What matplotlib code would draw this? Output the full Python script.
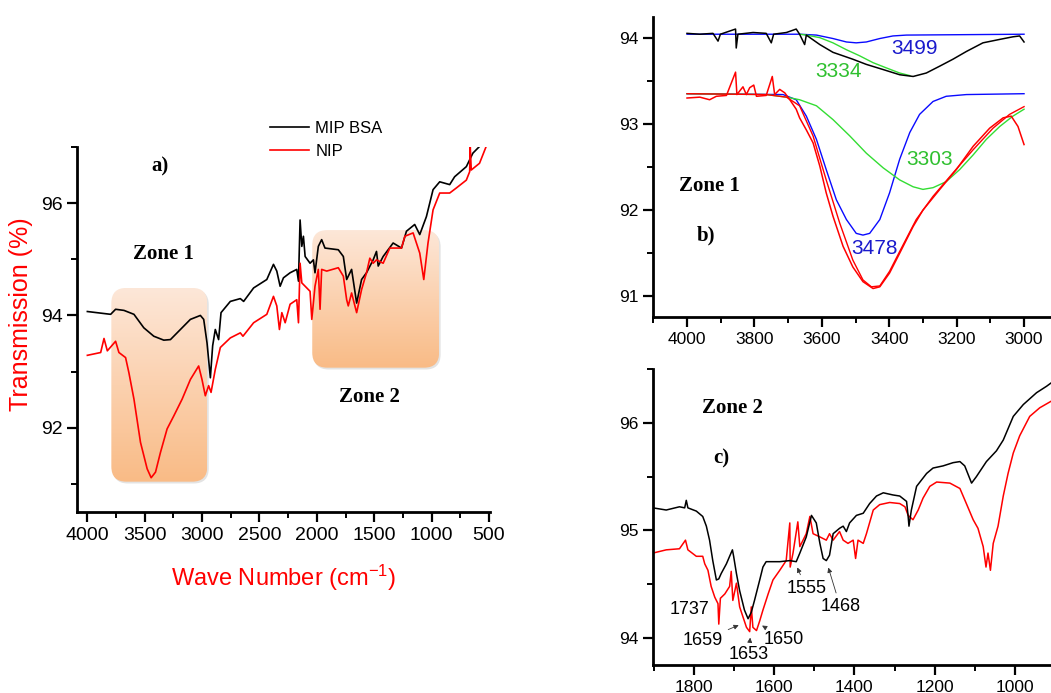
import numpy as np
import matplotlib
matplotlib.use("Agg")
import matplotlib.pyplot as plt
from matplotlib.patches import FancyBboxPatch
from matplotlib.colors import LinearSegmentedColormap
from matplotlib.ticker import MultipleLocator

plt.rcParams['font.family'] = ['Liberation Sans', 'DejaVu Sans']
plt.rcParams['mathtext.fontset'] = 'custom'
plt.rcParams['mathtext.rm'] = 'Liberation Sans'
plt.rcParams['mathtext.default'] = 'regular'

# ---------------- data ----------------
# panel a) full spectra
a_mip_x = [4000, 3797, 3754, 3681, 3594, 3508, 3421, 3334, 3276, 3189, 3102, 3015, 2986, 2957, 2928, 2908,
           2885, 2856, 2835, 2754, 2667, 2638, 2551, 2436, 2378, 2349, 2320, 2291, 2233, 2175, 2160, 2146,
           2131, 2117, 2102, 2059, 2030, 2016, 1987, 1958, 1929, 1813, 1769, 1740, 1697, 1653, 1610, 1567,
           1509, 1480, 1465, 1422, 1335, 1262, 1219, 1147, 1103, 1045, 987, 929, 842, 799, 697, 640, 582]
a_mip_y = [94.07, 94.02, 94.11, 94.09, 94.02, 93.78, 93.63, 93.56, 93.57, 93.75, 93.93, 94.00, 93.93, 93.51,
           92.89, 93.46, 93.75, 93.57, 94.05, 94.25, 94.30, 94.25, 94.49, 94.64, 94.91, 94.79, 94.52, 94.67,
           94.76, 94.82, 94.61, 95.70, 95.23, 95.41, 95.05, 94.93, 94.99, 94.76, 95.23, 95.35, 95.20, 95.17,
           95.05, 94.64, 94.82, 94.22, 94.64, 94.76, 94.99, 95.14, 94.88, 95.05, 95.29, 95.20, 95.50, 95.62,
           95.44, 95.76, 96.24, 96.38, 96.33, 96.47, 96.65, 96.89, 97.01]

a_nip_x = [4000, 3884, 3855, 3826, 3754, 3725, 3667, 3638, 3594, 3537, 3479, 3444, 3406, 3363, 3305, 3247,
           3174, 3102, 3030, 3001, 2972, 2943, 2922, 2885, 2841, 2754, 2667, 2644, 2551, 2436, 2378, 2349,
           2326, 2305, 2276, 2233, 2175, 2160, 2146, 2131, 2102, 2059, 2044, 2016, 1987, 1972, 1958, 1914,
           1813, 1769, 1740, 1726, 1697, 1653, 1610, 1567, 1538, 1509, 1480, 1422, 1364, 1262, 1233, 1161,
           1103, 1068, 1031, 987, 929, 842, 784, 697, 668, 663, 654, 582, 524]
a_nip_y = [93.29, 93.34, 93.59, 93.37, 93.54, 93.34, 93.25, 92.98, 92.51, 91.74, 91.27, 91.11, 91.21, 91.56,
           91.98, 92.21, 92.51, 92.86, 93.10, 92.86, 92.57, 92.75, 92.63, 93.04, 93.43, 93.60, 93.69, 93.63,
           93.87, 94.02, 94.34, 94.17, 93.75, 94.05, 93.87, 94.20, 94.28, 93.87, 94.93, 94.58, 94.52, 94.43,
           93.93, 94.52, 94.82, 94.11, 94.82, 94.79, 94.85, 94.70, 94.28, 94.17, 94.40, 94.05, 94.46, 94.76,
           95.02, 94.93, 94.99, 94.93, 95.20, 95.20, 95.41, 95.47, 95.11, 94.64, 95.29, 95.88, 96.18, 96.18,
           96.27, 96.41, 96.56, 97.01, 96.59, 96.71, 97.01]

# panel b) zone 1 with fitted bands
b_mip_x = [4000, 3962, 3923, 3908, 3901, 3856, 3854, 3849, 3804, 3765, 3750, 3743, 3705, 3676, 3666, 3651,
           3646, 3606, 3567, 3508, 3468, 3418, 3369, 3329, 3290, 3250, 3211, 3171, 3122, 3072, 3033, 3013, 3000]
b_mip_y = [94.05, 94.04, 94.05, 93.96, 94.04, 94.10, 93.88, 94.04, 94.06, 94.05, 93.94, 94.04, 94.06, 94.10,
           94.04, 93.92, 94.03, 93.92, 93.83, 93.75, 93.69, 93.63, 93.57, 93.55, 93.59, 93.67, 93.75, 93.84,
           93.94, 93.98, 94.01, 94.02, 93.95]

b_fit3499_x = [4000, 3666, 3616, 3567, 3527, 3498, 3468, 3428, 3389, 3349, 3000]
b_fit3499_y = [94.04, 94.04, 94.03, 93.99, 93.95, 93.94, 93.95, 93.99, 94.02, 94.03, 94.04]

b_fit3334_x = [3666, 3646, 3606, 3567, 3527, 3488, 3448, 3409, 3369, 3339]
b_fit3334_y = [94.04, 94.03, 94.00, 93.94, 93.86, 93.79, 93.71, 93.65, 93.59, 93.56]

b_nip_x = [4000, 3962, 3933, 3913, 3883, 3856, 3852, 3834, 3824, 3814, 3802, 3794, 3765, 3747, 3740, 3725,
           3710, 3695, 3676, 3666, 3646, 3626, 3606, 3587, 3567, 3537, 3508, 3478, 3448, 3428, 3399, 3369,
           3329, 3300, 3250, 3201, 3151, 3102, 3062, 3038, 3018, 3000]
b_nip_y = [93.30, 93.31, 93.28, 93.32, 93.33, 93.60, 93.34, 93.43, 93.34, 93.42, 93.45, 93.32, 93.33, 93.55,
           93.34, 93.40, 93.36, 93.28, 93.17, 93.07, 92.93, 92.78, 92.51, 92.20, 91.93, 91.58, 91.34, 91.17,
           91.09, 91.11, 91.27, 91.50, 91.81, 92.00, 92.24, 92.47, 92.74, 92.95, 93.07, 93.09, 92.97, 92.76]

b_nipfit_x = [4000, 3765, 3705, 3666, 3626, 3587, 3547, 3508, 3478, 3453, 3428, 3399, 3369, 3320, 3270,
              3211, 3151, 3092, 3043, 3000]
b_nipfit_y = [93.35, 93.34, 93.31, 93.21, 92.86, 92.35, 91.85, 91.42, 91.19, 91.11, 91.12, 91.29, 91.52,
              91.89, 92.16, 92.43, 92.70, 92.95, 93.11, 93.20]

b_fit3478_x = [4000, 3715, 3676, 3646, 3616, 3587, 3557, 3527, 3498, 3478, 3458, 3428, 3399, 3369, 3339,
               3310, 3270, 3231, 3171, 3000]
b_fit3478_y = [93.35, 93.34, 93.28, 93.09, 92.82, 92.47, 92.12, 91.89, 91.73, 91.71, 91.73, 91.89, 92.20,
               92.59, 92.90, 93.11, 93.26, 93.32, 93.34, 93.35]

b_fit3303_x = [4000, 3765, 3705, 3666, 3616, 3567, 3517, 3468, 3418, 3369, 3329, 3300, 3270, 3231, 3191,
               3151, 3112, 3072, 3033, 3000]
b_fit3303_y = [93.35, 93.34, 93.31, 93.28, 93.21, 93.05, 92.86, 92.66, 92.49, 92.35, 92.27, 92.24, 92.26,
               92.33, 92.47, 92.64, 92.82, 92.97, 93.09, 93.17]

# panel c) zone 2
c_mip_x = [1902, 1869, 1836, 1823, 1819, 1815, 1794, 1778, 1769, 1761, 1753, 1744, 1738, 1732, 1719, 1711,
           1704, 1701, 1694, 1686, 1674, 1665, 1657, 1649, 1636, 1628, 1620, 1586, 1561, 1545, 1536, 1520,
           1507, 1495, 1486, 1478, 1470, 1462, 1453, 1437, 1428, 1420, 1412, 1395, 1378, 1362, 1345, 1328,
           1304, 1287, 1270, 1266, 1264, 1258, 1245, 1220, 1204, 1179, 1154, 1137, 1125, 1108, 1096, 1071,
           1046, 1029, 1004, 979, 946, 921, 910]
c_mip_y = [95.21, 95.19, 95.22, 95.21, 95.28, 95.21, 95.18, 95.13, 95.04, 94.91, 94.72, 94.54, 94.55, 94.60,
           94.69, 94.76, 94.82, 94.76, 94.60, 94.44, 94.26, 94.18, 94.24, 94.35, 94.54, 94.66, 94.71, 94.71,
           94.72, 94.71, 94.79, 94.94, 95.14, 95.07, 94.88, 94.74, 94.72, 94.77, 94.97, 95.02, 95.04, 94.99,
           95.07, 95.14, 95.16, 95.25, 95.32, 95.35, 95.33, 95.32, 95.27, 95.13, 95.04, 95.19, 95.41, 95.53,
           95.58, 95.60, 95.63, 95.64, 95.60, 95.44, 95.50, 95.64, 95.74, 95.84, 96.06, 96.17, 96.28, 96.34,
           96.37]

c_nip_x = [1902, 1869, 1836, 1821, 1815, 1794, 1778, 1773, 1765, 1757, 1748, 1740, 1738, 1734, 1723, 1711,
           1707, 1703, 1694, 1686, 1678, 1669, 1661, 1657, 1653, 1644, 1636, 1628, 1615, 1603, 1586, 1570,
           1561, 1560, 1553, 1541, 1536, 1520, 1511, 1503, 1486, 1470, 1462, 1453, 1437, 1428, 1416, 1403,
           1397, 1391, 1378, 1370, 1353, 1337, 1312, 1287, 1274, 1266, 1254, 1241, 1229, 1212, 1195, 1162,
           1137, 1121, 1104, 1092, 1079, 1072, 1067, 1061, 1054, 1042, 1029, 1017, 1004, 988, 963, 938, 910]
c_nip_y = [94.79, 94.82, 94.83, 94.91, 94.82, 94.76, 94.76, 94.69, 94.63, 94.48, 94.38, 94.32, 94.13, 94.37,
           94.41, 94.48, 94.62, 94.35, 94.51, 94.29, 94.20, 94.10, 94.06, 94.29, 94.10, 94.07, 94.16, 94.26,
           94.41, 94.54, 94.63, 94.72, 95.07, 94.66, 94.79, 95.08, 94.85, 94.97, 95.13, 94.97, 94.94, 94.91,
           94.97, 94.91, 94.99, 94.91, 94.88, 94.91, 94.74, 94.91, 94.88, 94.97, 95.19, 95.24, 95.26, 95.25,
           95.22, 95.14, 95.10, 95.19, 95.30, 95.41, 95.45, 95.44, 95.39, 95.25, 95.10, 95.02, 94.85, 94.66,
           94.79, 94.63, 94.88, 95.04, 95.32, 95.53, 95.72, 95.88, 96.06, 96.14, 96.20]

c_peak_labels = ['1737', '1659', '1653', '1650', '1555', '1468']

serif = ['Liberation Serif', 'DejaVu Serif']
blue = '#0a0aff'
green = '#33dd33'
fig = plt.figure(figsize=(10.51, 6.93), dpi=100)


def style_axes(ax, fs):
    for s in ['top', 'right']:
        ax.spines[s].set_visible(False)
    for s in ['left', 'bottom']:
        ax.spines[s].set_linewidth(2)
    ax.tick_params(which='major', length=7, width=1.6, labelsize=fs, direction='out')
    ax.tick_params(which='minor', length=4, width=1.4, direction='out')


def zone_box(ax, x0, x1, y0, y1, xr, yr):
    # shadow
    sh = FancyBboxPatch((x1 - xr * 0.1, y0 - yr * 0.12), x0 - x1, y1 - y0,
                        boxstyle="round,pad=0,rounding_size=%f" % xr,
                        mutation_aspect=yr / xr, transform=ax.transData,
                        fc='#b0b0b0', ec='none', alpha=0.35, zorder=0)
    ax.add_patch(sh)
    p = FancyBboxPatch((x1, y0), x0 - x1, y1 - y0,
                       boxstyle="round,pad=0,rounding_size=%f" % xr,
                       mutation_aspect=yr / xr, transform=ax.transData,
                       fc='none', ec='none', zorder=1)
    ax.add_patch(p)
    cmap = LinearSegmentedColormap.from_list('zone', ['#f9bb86', '#fde7d8'])
    grad = np.linspace(0, 1, 200).reshape(-1, 1)
    im = ax.imshow(grad, extent=(x0, x1, y0, y1), origin='lower', aspect='auto',
                   cmap=cmap, zorder=0.5)
    im.set_clip_path(p)


# ---------------- a) ----------------
ax = fig.add_axes([0.0733, 0.2612, 0.393, 0.5267])
zone_box(ax, 3791, 2955, 91.04, 94.49, 130, 0.27)
zone_box(ax, 2040, 934, 93.07, 95.52, 130, 0.27)
ax.plot(a_mip_x, a_mip_y, color='black', lw=1.2, label='MIP BSA', zorder=3)
ax.plot(a_nip_x, a_nip_y, color='red', lw=1.2, label='NIP', zorder=3)
ax.set_xlim(4090, 490)
ax.set_ylim(90.5, 97.0)
ax.xaxis.set_major_locator(MultipleLocator(500))
ax.xaxis.set_minor_locator(MultipleLocator(250))
ax.yaxis.set_major_locator(MultipleLocator(2))
ax.yaxis.set_minor_locator(MultipleLocator(1))
style_axes(ax, 14)
ax.set_ylabel('Transmission (%)', color='red', fontsize=18)
ax.yaxis.set_label_coords(-0.106, 0.542)
ax.set_xlabel('Wave Number (cm$^{-1}$)', color='red', fontsize=17)
ax.xaxis.set_label_coords(0.5, -0.14)
ax.text(3370, 96.65, 'a)', fontsize=15, fontweight='bold', family=serif, ha='center', va='center')
ax.text(3335, 95.1, 'Zone 1', fontsize=15, fontweight='bold', family=serif, ha='center', va='center')
ax.text(1545, 92.55, 'Zone 2', fontsize=15, fontweight='bold', family=serif, ha='center', va='center')
fig.legend(loc='upper left', bbox_to_anchor=(0.243, 0.847), frameon=False, fontsize=12,
           handlelength=2.3, handletextpad=0.4, labelspacing=0.45)

# ---------------- b) ----------------
bx = fig.add_axes([0.6213, 0.5426, 0.3787, 0.4329])
bx.plot(b_mip_x, b_mip_y, color='black', lw=1.1, zorder=3)
bx.plot(b_fit3499_x, b_fit3499_y, color=blue, lw=1.0, zorder=2)
bx.plot(b_fit3334_x, b_fit3334_y, color=green, lw=1.0, zorder=2)
bx.plot(b_nip_x, b_nip_y, color='red', lw=1.1, zorder=3)
bx.plot(b_nipfit_x, b_nipfit_y, color='red', lw=1.0, zorder=3)
bx.plot(b_fit3478_x, b_fit3478_y, color=blue, lw=1.0, zorder=2)
bx.plot(b_fit3303_x, b_fit3303_y, color=green, lw=1.0, zorder=2)
bx.set_xlim(4101, 2920)
bx.set_ylim(90.76, 94.24)
bx.xaxis.set_major_locator(MultipleLocator(200))
bx.xaxis.set_minor_locator(MultipleLocator(100))
bx.yaxis.set_major_locator(MultipleLocator(1))
bx.yaxis.set_minor_locator(MultipleLocator(0.5))
style_axes(bx, 12.5)
bx.text(3325, 93.87, '3499', color='#1a1acc', fontsize=15, ha='center', va='center')
bx.text(3552, 93.61, '3334', color='#2fc02f', fontsize=15, ha='center', va='center')
bx.text(3280, 92.59, '3303', color='#2fc02f', fontsize=15, ha='center', va='center')
bx.text(3443, 91.56, '3478', color='#1a1acc', fontsize=15, ha='center', va='center')
bx.text(3933, 92.28, 'Zone 1', fontsize=15, fontweight='bold', family=serif, ha='center', va='center')
bx.text(3943, 91.71, 'b)', fontsize=15, fontweight='bold', family=serif, ha='center', va='center')

# ---------------- c) ----------------
cx = fig.add_axes([0.6213, 0.0404, 0.3787, 0.4271])
cx.plot(c_mip_x, c_mip_y, color='black', lw=1.1, zorder=3)
cx.plot(c_nip_x, c_nip_y, color='red', lw=1.1, zorder=2)
cx.set_xlim(1902, 910)
cx.set_ylim(93.75, 96.5)
cx.xaxis.set_major_locator(MultipleLocator(200))
cx.xaxis.set_minor_locator(MultipleLocator(100))
cx.yaxis.set_major_locator(MultipleLocator(1))
cx.yaxis.set_minor_locator(MultipleLocator(0.5))
style_axes(cx, 12.5)
cx.text(1703, 96.14, 'Zone 2', fontsize=15, fontweight='bold', family=serif, ha='center', va='center')
cx.text(1732, 95.67, 'c)', fontsize=15, fontweight='bold', family=serif, ha='center', va='center')
arrow = dict(arrowstyle='-|>', color='#333333', lw=0.6, mutation_scale=7)
cx.text(1811, 94.27, c_peak_labels[0], fontsize=13, ha='center', va='center')
cx.annotate(c_peak_labels[1], xy=(1682, 94.13), xytext=(1778, 93.98), fontsize=13,
            ha='center', va='center', arrowprops=arrow)
cx.annotate(c_peak_labels[2], xy=(1659, 94.03), xytext=(1664, 93.85), fontsize=13,
            ha='center', va='center', arrowprops=arrow)
cx.annotate(c_peak_labels[3], xy=(1636, 94.13), xytext=(1575, 93.99), fontsize=13,
            ha='center', va='center', arrowprops=arrow)
cx.annotate(c_peak_labels[4], xy=(1545, 94.68), xytext=(1520, 94.46), fontsize=13,
            ha='center', va='center', arrowprops=arrow)
cx.annotate(c_peak_labels[5], xy=(1467, 94.68), xytext=(1435, 94.29), fontsize=13,
            ha='center', va='center', arrowprops=arrow)

fig.savefig('out.png', dpi=100)
